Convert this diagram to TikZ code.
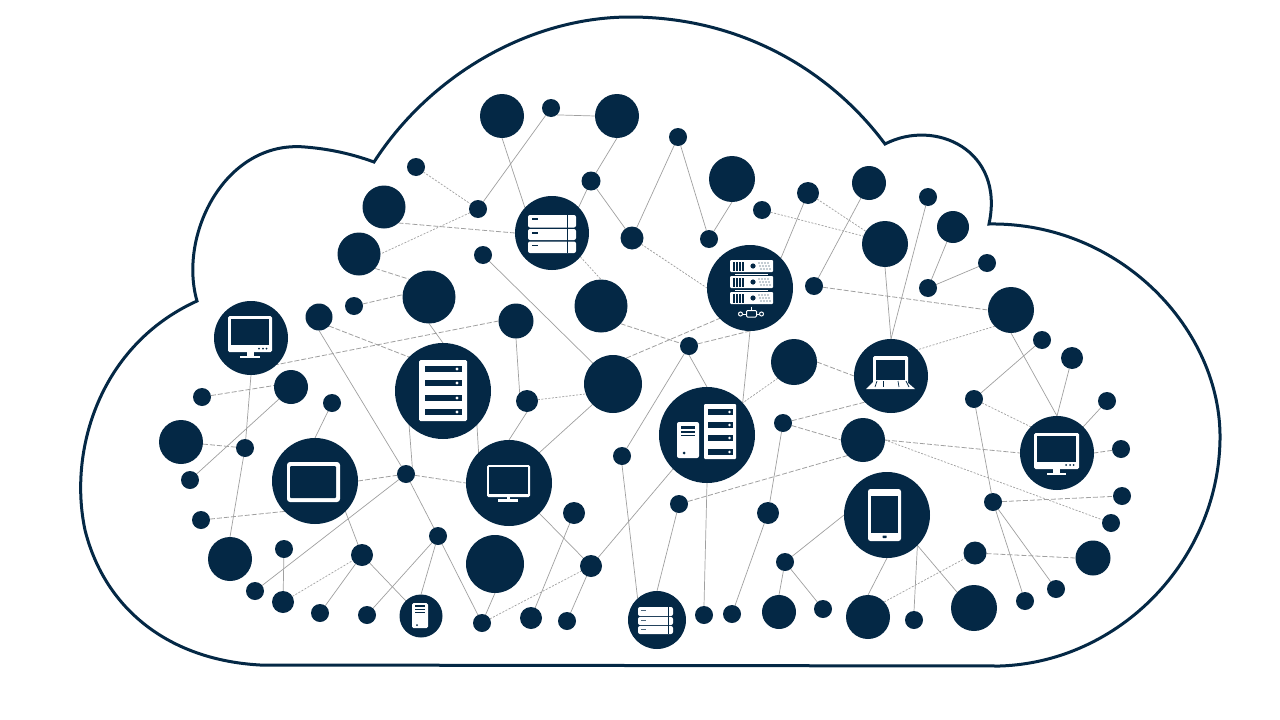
\documentclass[tikz,border=0pt]{standalone}
\usetikzlibrary{backgrounds}
\definecolor{navy}{RGB}{4,40,69}
\definecolor{wire}{RGB}{160,160,160}
\tikzset{
  dot/.style={circle,fill=navy,inner sep=0pt,outer sep=0pt,draw=none},
  sl/.style={draw=wire,line width=0.7pt},
  da/.style={draw=wire,line width=0.8pt,dash pattern=on 5pt off 2pt},
  dt/.style={draw=wire,line width=0.7pt,dash pattern=on 2pt off 1.5pt},
  cloudline/.style={draw=navy,line width=3pt,line join=miter},
  wh/.style={fill=white,draw=none},
  nv/.style={fill=navy,draw=none}
}
\newcommand{\slotrow}[5]{% x1 x2 y1 y2 dotx
  \fill[nv] (#1,#3) rectangle (#2,#4);
  \fill[wh] (#5,{(#3+#4)/2}) circle (1.6);
}
\newcommand{\rackunit}[1]{%
  \fill[wh,rounded corners=1pt] (730,#1) rectangle (773,#1+12);
  \foreach \q in {733,736,739,742} \fill[nv] (\q,#1+1.5) rectangle (\q+1.5,#1+10.5);
  \fill[nv] (753,#1+6) circle (2.6);
  \foreach \q in {759,762,765,768} \foreach \w in {3,6,9} \fill[nv] (\q+\w/3-1,#1+\w) circle (0.6);
}
\begin{document}
\begin{tikzpicture}[x=1pt,y=-1pt]
\useasboundingbox (0,0) rectangle (1280,720);
% ---------- nodes
\foreach \n/\x/\y/\r in {
a1/502/116/22,a2/551/108/9,a3/617/116/22,a4/678/137/9,a5/732/179/23,a6/416/167/9,a7/384/207/21.5,a8/478/209/9,a9/591/181/9.5,
srvA/552/233/37,a10/632/238/11.5,a11/709/239/9,a12/762/210/9,a13/808/193/11,a14/869/183/17,a15/928/197/9,a16/953/227/16,a17/885/244/23,
a18/987/263/9,a19/928/288/9,a20/814/286/9,a21/359/254/21.5,a22/483/255/9,rack/750/288/43,a23/429/297/26.5,a24/601/306/26.5,a25/354/306/9,
a26/319/317/13.5,a27/516/321/17.5,a28/1011/310/23,monA/251/338/37,a29/1042/340/9,a30/1072/358/11,a31/689/346/9,a32/794/362/23,lap/891/376/37,
srvB/443/391/48,a33/613/384/29,a34/291/387/17,a35/202/397/9,a36/332/403/9,a37/527/401/11,a38/974/399/9,a39/1107/401/9,a40/181/442/22,
a41/245/448/9,a42/783/423/9,a43/863/440/22,srvC/707/435/48,monB/1057/453/37,a44/1121/449/9,a45/622/456/9,tabl/315/481/43,a46/406/474/9,
monC/509/483/43,a47/190/480/9,phone/887/515/43,a48/679/504/9,a49/993/502/9,a50/1122/496/9,a51/768/513/11,a52/574/513/11,a53/1111/523/9,
a54/201/520/9,a55/438/536/9,a56/230/559/22,a57/284/549/9,a58/362/555/11,a59/975/553/11.5,a60/495/564/29,a61/785/562/9,a62/1093/558/17.5,
a63/591/566/11,a64/255/591/9,a65/283/602/11,a66/320/613/9,a67/367/615/9,pc/421/616/21.5,a68/482/623/9,a69/531/618/11,a70/567/621/9,
srvD/657/620/29,a71/704/615/9,a72/732/614/9,a73/779/612/17,a74/823/609/9,a75/868/617/22,a76/914/620/9,a77/974/608/23,a78/1025/601/9,a79/1056/589/9}
  \node[dot,minimum size=2*\r] (\n) at (\x,\y) {};
% ---------- connectors and cloud behind
\begin{scope}[on background layer]
\fill[white] (0,0) rectangle (1280,720);
\foreach \p/\q in {a1.270/srvA.137,a2/a8,a2.-50/a3.180,a3.270/a9,a9/srvA.44,a9/a10,a10/a4,a4/a11,a11/a5.270,a23.270/srvB.90,a22/a33.134,
 a26.270/a46,a46/a55,srvB.225/a46.45,srvB.-45/monC.135,a27.270/a37.132,a37.270/monC.90,a31.270/srvC.90,a31/a45,rack.270/srvC.42,srvC.225/a63,
 a45.270/srvD.132,a48/srvD.90,srvC.270/a71.90,a51/a72,a42/a51,phone.180/a61,a61/a73.90,a61/a74,phone.270/a75.90,phone.-45/a76.90,phone.-45/a77.137,
 a38/a49,a49/a78,a49/a79,a38/a29,a28.270/monB.90,a30/monB.90,a39/monB.45,a17.270/lap.90,a15/lap.90,a13/rack.44,a14/a20,a16/a19,a18/a19,
 monA.270/a41,a41/a56.90,a34.225/a47,a36/tabl.90,a46/a64,tabl.-45/a58,a57/a65,a58/a66,a58/pc.135,a55/a67,a55/pc.90,a55/a68,a60.270/a68,
 monC.-45/a63,a52/a69,a63/a70,monC.45/a33.225}
 \draw[sl] (\p) -- (\q);
\foreach \p/\q in {a7.-48/srvA.180,a21.-42/a23.138,a25/a23.175,a24.-42/a31,a33.63/rack.225,a31/rack.270,a27.180/monA.-46,a26.-42/srvB.135,
 a32.0/lap.180,a42/lap.225,a42/a43.180,a43.225/a48,a59/a62.180,a49/a50,a43.0/monB.180,a44/monB.0,a20/a28.180,a35/a34.175,a40/a41,
 tabl.0/a46,a46/monC.180,a54/tabl.225}
 \draw[da] (\p) -- (\q);
\foreach \p/\q in {a6/a8,a8/a21.0,srvA.-40/a24.90,a10/rack.180,a37/a33.200,a32.225/srvC.42,a75.43/a59,a43.0/a53,a38/monB.135,a28.225/lap.45,
 a12/a17.160,a13/a17,a65/a58,a68/a63}
 \draw[dt] (\p) -- (\q);
% cloud outline
\draw[cloudline] (1000,666) -- (260,665)
  .. controls (170,660) and (105,610) .. (85,530)
  .. controls (68,450) and (100,345) .. (197,301)
  .. controls (178,235) and (225,140) .. (305,147)
  .. controls (330,149) and (352,154) .. (374,162)
  .. controls (430,75) and (530,17) .. (630,17)
  .. controls (740,17) and (830,70) .. (885,144)
  .. controls (935,118) and (1005,150) .. (989,224)
  .. controls (1120,222) and (1222,330) .. (1220,440)
  .. controls (1218,560) and (1120,662) .. (1000,666) -- cycle;
\end{scope}
% ---------- icons
% srvB tall rack
\fill[wh,rounded corners=1.5pt] (419,360) rectangle (467,421);
\foreach \yy in {366,380,395,409} {\slotrow{425}{462}{\yy}{\yy+6}{457}}
% srvC rack + tower
\fill[wh,rounded corners=1pt] (704,404) rectangle (736,459);
\foreach \yy in {409,422,435,449} {\fill[nv] (708,\yy) rectangle (733,\yy+6); \fill[wh] (729.5,\yy+3) circle (1.3);}
\fill[wh,rounded corners=2pt] (677,422) rectangle (699,458);
\fill[nv] (681,426) rectangle (695,429);
\fill[nv] (681,431) rectangle (695,433);
\fill[nv] (681,434.5) rectangle (695,436);
\fill[nv] (684,453) circle (1.5);
% srvA
\foreach \t/\b in {215/227.5,229/240,241.5/253} {
  \fill[wh,rounded corners=2pt] (528,\t) rectangle (576,\b);
  \fill[nv] (532,\t+3) rectangle (538,\t+4.5);
}
\fill[nv] (566.5,215) rectangle (568,253);
% srvD
\foreach \t/\b in {607/616,617/625,626/634} {
  \fill[wh,rounded corners=2pt] (638,\t) rectangle (673,\b);
  \fill[navy!70] (641,\t+2.5) rectangle (646,\t+4);
}
\fill[nv] (667.5,607) rectangle (668.5,634);
% rack
\rackunit{260}\rackunit{276}\rackunit{292}
\fill[wh] (735,273.5) rectangle (768,274.5);
\fill[wh] (735,289.5) rectangle (768,290.5);
\draw[white,line width=1pt] (751.5,306.5) -- (751.5,310);
\draw[white,line width=1pt] (743,314) -- (746.5,314) (756.5,314) -- (759,314);
\draw[white,line width=1pt,rounded corners=1pt] (746.5,310.5) rectangle (756.5,317);
\draw[white,line width=1pt] (740.5,314) circle (2) (761.5,314) circle (2);
% monA
\fill[wh,rounded corners=1.5pt] (228,316) rectangle (272,352);
\fill[nv] (231,319) rectangle (269,345);
\foreach \q in {259,263,266.5} \fill[nv] (\q,348.5) circle (1);
\fill[wh] (247,352) rectangle (254,356);
\fill[wh] (240,356) rectangle (259.5,358);
% monB
\fill[wh,rounded corners=1.5pt] (1034,433) rectangle (1079,469);
\fill[nv] (1037,436) rectangle (1076,461.5);
\foreach \q in {1066,1070,1073.5} \fill[nv] (\q,465) circle (1);
\fill[wh] (1053,469) rectangle (1060,473);
\fill[wh] (1047,473) rectangle (1066,475);
% monC
\fill[wh,rounded corners=1.5pt] (487,465) rectangle (530,497);
\fill[nv] (489,467) rectangle (528,494);
\fill[wh] (507,497) rectangle (510,499);
\fill[wh] (498,499) rectangle (518,502);
% tablet
\fill[wh,rounded corners=3pt] (287,462) rectangle (340,502);
\fill[nv,rounded corners=1pt] (290,466) rectangle (336,498);
% laptop
\fill[wh,rounded corners=1.5pt] (873,356) rectangle (908,384);
\fill[nv] (876,360) rectangle (905,380);
\fill[wh] (873,382) -- (907,382) -- (915,389) -- (866,389) -- cycle;
\foreach \q/\r in {877/875,883/883,898/899,906/909}
  \draw[navy,line width=0.7pt] (\q,381) -- (\r,387);
% phone
\fill[wh,rounded corners=2.5pt] (868,489) rectangle (901,541);
\fill[nv] (871,496) rectangle (898,533);
\fill[nv,rounded corners=0.5pt] (882.5,535.5) rectangle (886.5,538);
% pc tower
\fill[wh,rounded corners=1.5pt] (412,603) rectangle (428,628);
\fill[nv] (415,605) rectangle (425,607);
\fill[nv] (415,608.5) rectangle (425,610);
\fill[nv] (415,611.5) rectangle (425,613);
\fill[nv] (417,625) circle (1);
\end{tikzpicture}
\end{document}
